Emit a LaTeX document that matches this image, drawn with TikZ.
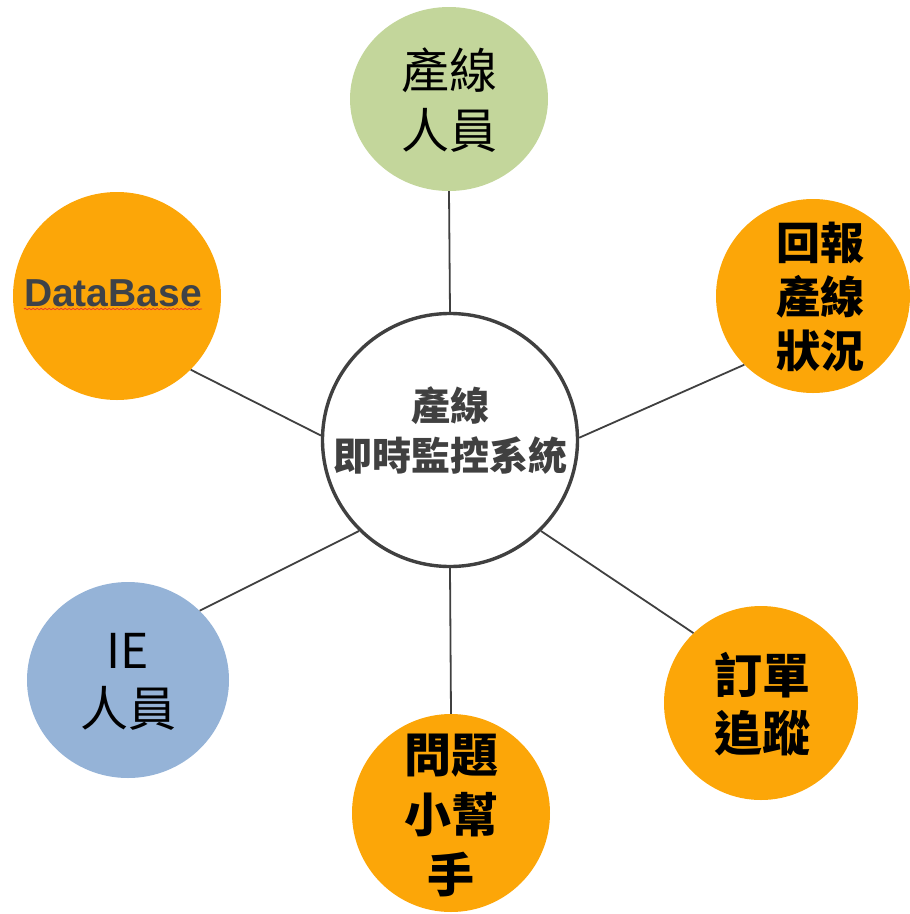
\documentclass[tikz,border=0pt]{standalone}
\usepackage{fontspec}
\setmainfont{Liberation Sans}
\newfontfamily\cjk{Noto Sans CJK TC}
\usetikzlibrary{shapes.geometric,decorations.pathmorphing}
\definecolor{orng}{RGB}{252,166,8}
\definecolor{grn}{RGB}{195,214,155}
\definecolor{blu}{RGB}{149,179,215}
\definecolor{edge}{RGB}{64,64,64}
\definecolor{ctext}{RGB}{64,64,64}
\definecolor{dbtext}{RGB}{62,66,72}
\definecolor{spell}{RGB}{235,60,40}
\begin{document}
\begin{tikzpicture}[x=1pt,y=-1pt,
  blob/.style={ellipse,inner sep=0pt,draw=none},
  link/.style={draw=edge,line width=1.8pt},
  lbl/.style={align=center,inner sep=0pt}]
\useasboundingbox (0,0) rectangle (910,914);
\node[blob,fill=grn,minimum width=198pt,minimum height=184pt] (top) at (449,99) {};
\node[blob,fill=orng,minimum width=208pt,minimum height=208pt] (db) at (117,296) {};
\node[blob,fill=orng,minimum width=194pt,minimum height=194pt] (rep) at (813,296) {};
\node[blob,fill=blu,minimum width=202pt,minimum height=196pt] (ie) at (128,680) {};
\node[blob,fill=orng,minimum width=198pt,minimum height=198pt] (q) at (451,813) {};
\node[blob,fill=orng,minimum width=194pt,minimum height=194pt] (ord) at (761,703) {};
\node[ellipse,draw=edge,line width=3.4pt,fill=white,minimum width=255pt,minimum height=253pt,inner sep=0pt] (c) at (450,440) {};
\draw[link] (c.north) -- (top.south);
\draw[link] (c.178) -- (db.-45);
\draw[link] (c.1) -- (rep.225);
\draw[link] (c.225) -- (ie.44);
\draw[link] (c.south) -- (q.north);
\draw[link] (c.-45) -- (ord.134);
\node[lbl,font=\cjk\fontsize{48}{60}\selectfont] (toptxt) at (449,100) {產線\\人員};
\node[lbl,font=\cjk\bfseries\fontsize{39}{50}\selectfont,text=ctext] (ctxt) at (450,431) {產線\\即時監控系統};
\node[lbl,font=\cjk\bfseries\fontsize{44}{54}\selectfont] (reptxt) at (820,297) {回報\\產線\\狀況};
\node[lbl,font=\cjk\bfseries\fontsize{48}{58}\selectfont] (ordtxt) at (762,704) {訂單\\追蹤};
\node[lbl,font=\cjk\bfseries\fontsize{47}{60}\selectfont] (qtxt) at (451,815) {問題\\小幫\\手};
\node[lbl,font=\cjk\fontsize{48}{58}\selectfont] (ietxt) at (128,682) {IE\\人員};
\node[lbl,font=\bfseries\fontsize{39}{47}\selectfont,text=dbtext,anchor=base] (dbt) at (113,306) {DataBase};
\draw[spell,line width=0.8pt,decorate,decoration={snake,amplitude=0.7pt,segment length=4pt}]
  ([yshift=-3pt]dbt.base west) -- ([yshift=-3pt]dbt.base east);
\end{tikzpicture}
\end{document}
